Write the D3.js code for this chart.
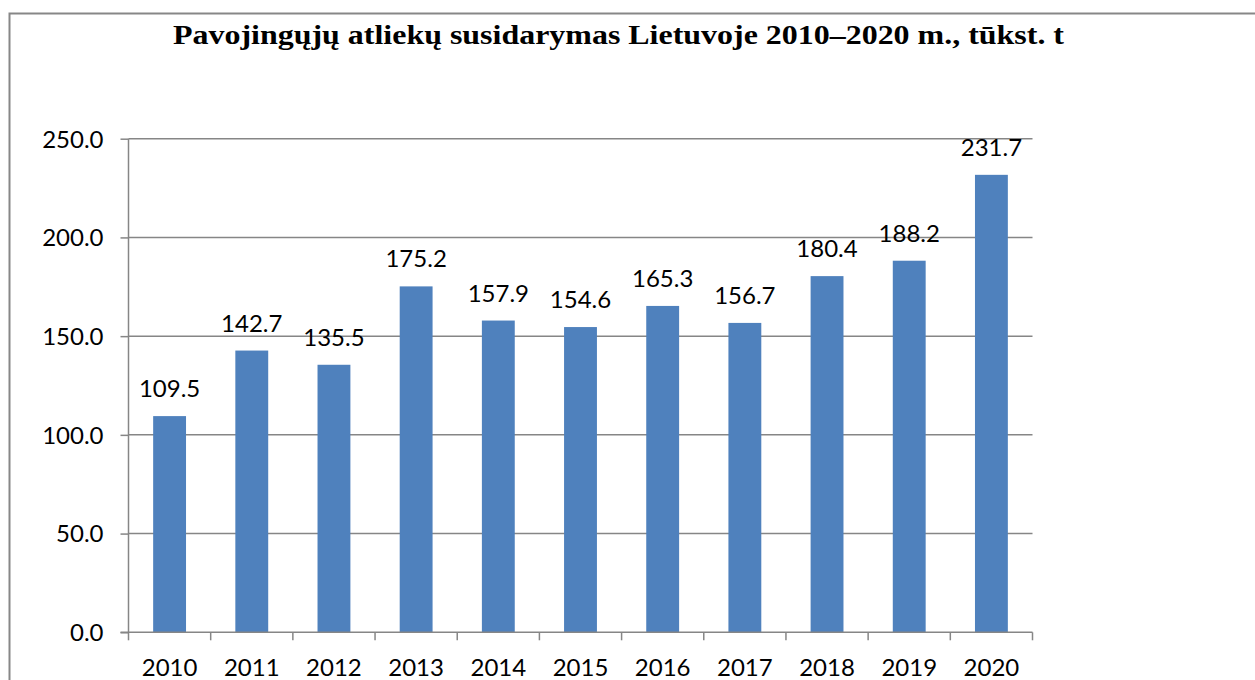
<!DOCTYPE html>
<html>
<head>
<meta charset="utf-8">
<script src="https://cdn.jsdelivr.net/npm/d3@7"></script>
<style>
    html, body { margin: 0; padding: 0; background: #fff; }
    svg { display: block; }
</style>
</head>
<body>
<svg id="chart" width="1255" height="680"></svg>
<script>
// Chart data
const years = ['2010', '2011', '2012', '2013', '2014', '2015', '2016', '2017', '2018', '2019', '2020'];
const values = [109.5, 142.7, 135.5, 175.2, 157.9, 154.6, 165.3, 156.7, 180.4, 188.2, 231.7];
const yTicks = [0, 50, 100, 150, 200, 250];
const title = 'Pavojingųjų atliekų susidarymas Lietuvoje 2010–2020 m., tūkst. t';

const svg = d3.select('#chart');
const margin = { left: 128.5, right: 1032.5, top: 138.7, bottom: 632.3 };
const labelFont = 'Lato, "Open Sans", sans-serif';

// Outer frame (only top and left edges fall inside the window)
svg.append('rect')
    .attr('x', 9.5)
    .attr('y', 13.5)
    .attr('width', 1300)
    .attr('height', 700)
    .attr('fill', 'none')
    .attr('stroke', '#878787')
    .attr('stroke-width', 2);

svg.append('text')
    .attr('x', 173)
    .attr('y', 44)
    .attr('font-family', '"Liberation Serif", "Times New Roman", serif')
    .attr('font-weight', 'bold')
    .attr('font-size', 28)
    .attr('textLength', 891)
    .attr('lengthAdjust', 'spacingAndGlyphs')
    .attr('fill', '#000')
    .text(title);

const x = d3.scaleBand()
    .domain(years)
    .range([margin.left, margin.right])
    .paddingInner(0.6)
    .paddingOuter(0.3);

const y = d3.scaleLinear()
    .domain([0, 250])
    .range([margin.bottom, margin.top]);

// Gridlines
svg.append('g')
    .selectAll('line')
    .data(yTicks.filter(d => d > 0))
    .enter().append('line')
    .attr('x1', margin.left)
    .attr('x2', margin.right)
    .attr('y1', d => y(d))
    .attr('y2', d => y(d))
    .attr('stroke', '#868686')
    .attr('stroke-width', 1.5);

// Bars
svg.append('g')
    .selectAll('rect')
    .data(values)
    .enter().append('rect')
    .attr('x', (d, i) => x(years[i]))
    .attr('y', d => y(d))
    .attr('width', x.bandwidth())
    .attr('height', d => y(0) - y(d))
    .attr('fill', '#4F81BD');

// Value labels
svg.append('g')
    .selectAll('text')
    .data(values)
    .enter().append('text')
    .attr('x', (d, i) => x(years[i]) + x.bandwidth() / 2)
    .attr('y', d => y(d) - 19)
    .attr('text-anchor', 'middle')
    .attr('font-family', labelFont)
    .attr('font-size', 24)
    .attr('fill', '#000')
    .text(d => d.toFixed(1));

// Y axis
const yAxis = svg.append('g')
    .attr('transform', `translate(${margin.left},0)`)
    .call(d3.axisLeft(y).tickValues(yTicks).tickSize(8).tickPadding(17).tickFormat(d3.format('.1f')));
yAxis.selectAll('path, line').attr('stroke', '#868686').attr('stroke-width', 1.5);
yAxis.select('.domain').attr('d', `M-8,${y(0)}H0V${y(250)}`);
yAxis.selectAll('text')
    .attr('font-family', labelFont)
    .attr('font-size', 24)
    .attr('fill', '#000')
    .attr('dy', '0.35em');

// X axis with ticks at category boundaries
const bounds = d3.range(years.length + 1).map(i => margin.left + i * (margin.right - margin.left) / years.length);
const xg = svg.append('g');
xg.append('line')
    .attr('x1', margin.left)
    .attr('x2', margin.right)
    .attr('y1', y(0))
    .attr('y2', y(0))
    .attr('stroke', '#868686')
    .attr('stroke-width', 1.5);
xg.selectAll('.tick')
    .data(bounds)
    .enter().append('line')
    .attr('x1', d => d)
    .attr('x2', d => d)
    .attr('y1', y(0))
    .attr('y2', y(0) + 8)
    .attr('stroke', '#868686')
    .attr('stroke-width', 1.5);
xg.selectAll('text')
    .data(years)
    .enter().append('text')
    .attr('x', d => x(d) + x.bandwidth() / 2)
    .attr('y', y(0) + 44)
    .attr('text-anchor', 'middle')
    .attr('font-family', labelFont)
    .attr('font-size', 24)
    .attr('fill', '#000')
    .text(d => d);
</script>
</body>
</html>
